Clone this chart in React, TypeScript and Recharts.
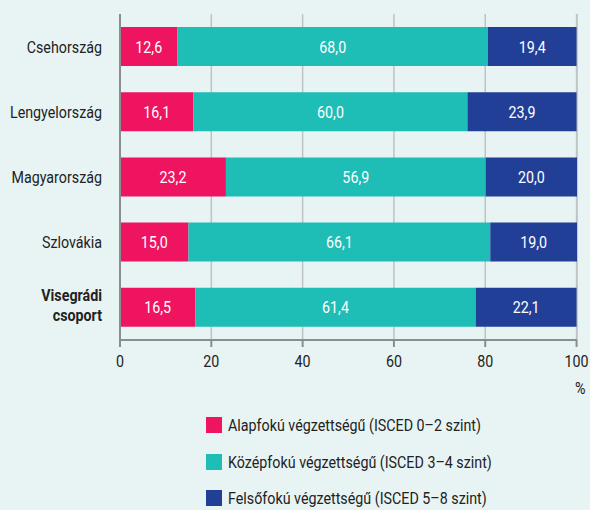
import React from "react";
import { BarChart, Bar, XAxis, YAxis, CartesianGrid, LabelList } from "recharts";

const countries = ["Csehország", "Lengyelország", "Magyarország", "Szlovákia", "Visegrádi csoport"];
const alapfoku = [12.6, 16.1, 23.2, 15.0, 16.5];
const kozepfoku = [68.0, 60.0, 56.9, 66.1, 61.4];
const felsofoku = [19.4, 23.9, 20.0, 19.0, 22.1];
const xTicks = [0, 20, 40, 60, 80, 100];

const series = [
  { key: "alap", name: "Alapfokú végzettségű (ISCED 0–2 szint)", color: "#ee1460" },
  { key: "kozep", name: "Középfokú végzettségű (ISCED 3–4 szint)", color: "#1ebdb5" },
  { key: "felso", name: "Felsőfokú végzettségű (ISCED 5–8 szint)", color: "#223f97" },
];

const data = countries.map((c, i) => ({
  name: c,
  alap: alapfoku[i],
  kozep: kozepfoku[i],
  felso: felsofoku[i],
}));

const FONT = 'Roboto, "DejaVu Sans Condensed", sans-serif';
const FS = 17;
const SQUEEZE = 0.84; // no condensed font available, so squeeze horizontally
const fmt = (v: any) => Number(v).toFixed(1).replace(".", ",");

// category labels; the group total is bold and broken in two lines
const CountryTick = (props: any) => {
  const { x, y, payload } = props;
  const label: string = payload.value;
  const t = `translate(${x},${y}) scale(${SQUEEZE},1)`;
  if (label === "Visegrádi csoport") {
    return (
      <g transform={t}>
        <text x={0} y={0} textAnchor="end" fill="#222" fontSize={FS} fontWeight="bold" fontFamily={FONT}>
          <tspan x={0} dy="-0.4em">Visegrádi</tspan>
          <tspan x={0} dy="1.2em">csoport</tspan>
        </text>
      </g>
    );
  }
  return (
    <g transform={t}>
      <text x={0} y={0} dy="0.35em" textAnchor="end" fill="#222" fontSize={FS} fontFamily={FONT}>
        {label}
      </text>
    </g>
  );
};

const XTick = (props: any) => {
  const { x, y, payload } = props;
  return (
    <g transform={`translate(${x},${y}) scale(${SQUEEZE},1)`}>
      <text x={0} y={0} dy="0.85em" textAnchor="middle" fill="#222" fontSize={FS} fontFamily={FONT}>
        {payload.value}
      </text>
    </g>
  );
};

const ValueLabel = (props: any) => {
  const { x, y, width, height, value } = props;
  const cx = Number(x) + Number(width) / 2;
  const cy = Number(y) + Number(height) / 2;
  return (
    <g transform={`translate(${cx},${cy}) scale(${SQUEEZE},1)`}>
      <text x={0} y={0} dy="0.36em" textAnchor="middle" fill="#fff" fontSize={FS} fontFamily={FONT}>
        {fmt(value)}
      </text>
    </g>
  );
};

export default function App() {
  return (
    <div
      style={{
        position: "absolute",
        left: 0,
        top: 0,
        width: 590,
        height: 510,
        background: "#e8f4f4",
        fontFamily: FONT,
      }}
    >
      <BarChart
        width={590}
        height={400}
        data={data}
        layout="vertical"
        margin={{ top: 14, right: 13, bottom: 30, left: 0 }}
        barSize={39}
      >
        <CartesianGrid horizontal={false} vertical={true} stroke="#bfc3c4" strokeWidth={1.5} />
        <XAxis
          type="number"
          domain={[0, 100]}
          ticks={xTicks}
          height={30}
          tickSize={7}
          tickMargin={6}
          stroke="#8a8d8e"
          strokeWidth={2}
          tick={<XTick />}
        />
        <YAxis
          type="category"
          dataKey="name"
          width={120}
          tickLine={false}
          tickMargin={12}
          stroke="#8a8d8e"
          strokeWidth={2}
          tick={<CountryTick />}
        />
        {series.map((s) => (
          <Bar key={s.key} dataKey={s.key} name={s.name} stackId="a" fill={s.color} isAnimationActive={false}>
            <LabelList dataKey={s.key} content={<ValueLabel />} />
          </Bar>
        ))}
      </BarChart>
      <div
        style={{
          position: "absolute",
          left: 575,
          top: 378,
          fontSize: FS,
          color: "#222",
          transform: `scaleX(${SQUEEZE})`,
          transformOrigin: "left",
        }}
      >
        %
      </div>
      <div style={{ position: "absolute", left: 206, top: 413 }}>
        {series.map((s) => (
          <div key={s.key} style={{ display: "flex", alignItems: "center", height: 24, marginBottom: 12.5 }}>
            <span style={{ width: 16, height: 16, background: s.color, display: "inline-block", marginRight: 6 }} />
            <span
              style={{
                fontSize: FS,
                color: "#222",
                whiteSpace: "nowrap",
                display: "inline-block",
                transform: `scaleX(${SQUEEZE})`,
                transformOrigin: "left",
              }}
            >
              {s.name}
            </span>
          </div>
        ))}
      </div>
    </div>
  );
}
